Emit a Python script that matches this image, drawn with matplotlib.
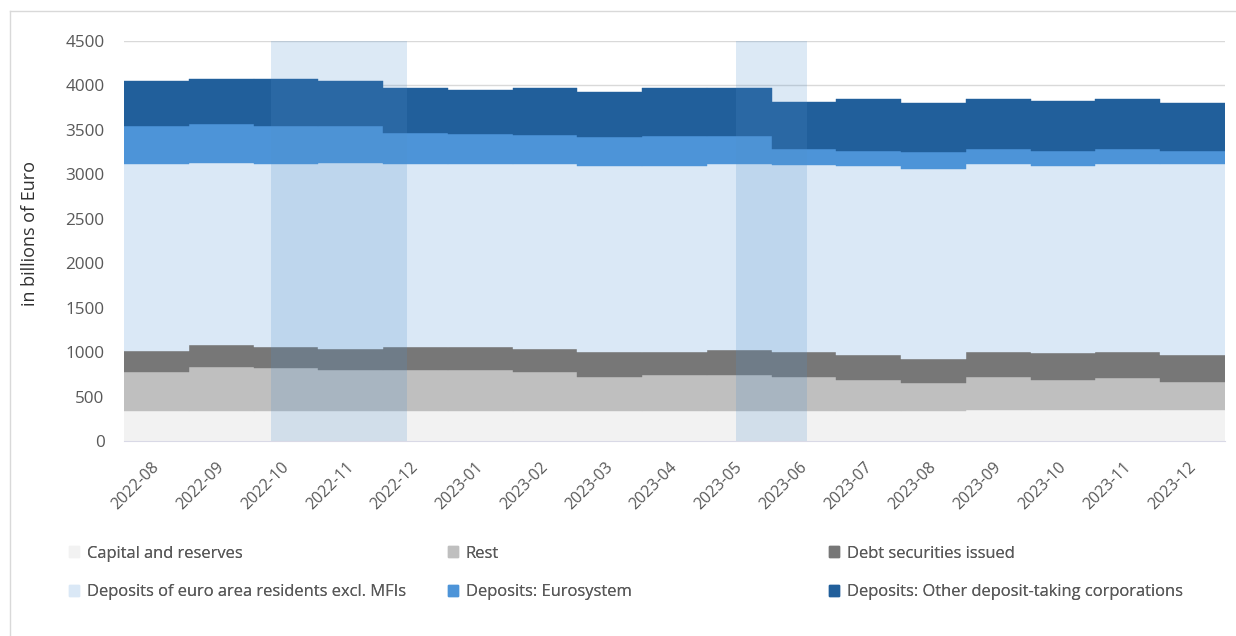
import matplotlib
matplotlib.use("Agg")
import matplotlib.pyplot as plt
from matplotlib.patches import Patch
from matplotlib.lines import Line2D
import matplotlib.transforms as mtransforms
import numpy as np

plt.rcParams['font.family'] = ['Open Sans', 'DejaVu Sans']

months = ["2022-08", "2022-09", "2022-10", "2022-11", "2022-12", "2023-01",
          "2023-02", "2023-03", "2023-04", "2023-05", "2023-06", "2023-07",
          "2023-08", "2023-09", "2023-10", "2023-11", "2023-12"]

capital = [340, 340, 340, 340, 340, 340, 340, 340, 340, 340, 340, 340, 340, 353, 353, 353, 353]
rest = [440, 496, 477, 459, 459, 459, 440, 384, 402, 402, 384, 346, 309, 371, 333, 352, 314]
debt = [236, 240, 237, 240, 262, 262, 259, 277, 259, 278, 277, 278, 277, 277, 300, 296, 301]
dep_residents = [2100, 2055, 2062, 2092, 2055, 2055, 2077, 2096, 2096, 2092, 2100, 2133, 2134,
                 2111, 2111, 2111, 2144]
dep_eurosystem = [428, 431, 428, 413, 353, 334, 330, 319, 334, 319, 180, 169, 187, 169, 169, 169, 154]
dep_other = [506, 507, 525, 506, 497, 504, 520, 513, 535, 535, 536, 577, 559, 562, 555, 562, 540]

series_names = ["Capital and reserves", "Rest", "Debt securities issued",
                "Deposits of euro area residents excl. MFIs", "Deposits: Eurosystem",
                "Deposits: Other deposit-taking corporations"]
series_values = [capital, rest, debt, dep_residents, dep_eurosystem, dep_other]
colors = ["#F2F2F2", "#BFBFBF", "#777777", "#DAE8F6", "#4D94D8", "#215F9B"]

# highlighted periods (in category units)
bands = [(1.77, 3.87), (8.95, 10.04)]

W, H = 1236, 636
fig = plt.figure(figsize=(W / 100, H / 100), dpi=100)
ax = fig.add_axes([124 / W, 1 - 441 / H, (1225 - 124) / W, (441 - 41) / H])

x = np.arange(len(months))
bottom = np.zeros(len(months))
handles = []
for name, vals, c in zip(series_names, series_values, colors):
    v = np.array(vals, dtype=float)
    ax.bar(x, v, bottom=bottom, width=1.0, color=c, edgecolor=c, linewidth=0.3, zorder=2)
    bottom += v
    handles.append(Patch(facecolor=c, edgecolor=c, label=name))

for a, b in bands:
    ax.axvspan(a, b, ymin=0, ymax=1, color="#5091CD", alpha=0.2, lw=0, zorder=3)

ax.set_xlim(-0.5, len(months) - 0.5)
ax.set_ylim(0, 4500)
ax.set_yticks(np.arange(0, 4501, 500))
ax.yaxis.grid(True, color="#D9D9D9", lw=1, zorder=0)
ax.set_axisbelow(True)
for s in ["left", "right", "top"]:
    ax.spines[s].set_visible(False)
ax.spines["bottom"].set_color("#D9D9E6")
ax.tick_params(axis="both", length=0, colors="#595959", labelsize=12.3)
ax.tick_params(axis="y", pad=14)
ax.set_xticks(x)
ax.set_xticklabels(months, rotation=45, ha="right", va="top", rotation_mode="anchor",
                   fontsize=11.5)
ax.tick_params(axis="x", pad=13)
offset = mtransforms.ScaledTranslation(-5 / 100, 0, fig.dpi_scale_trans)
for lbl in ax.get_xticklabels():
    lbl.set_transform(lbl.get_transform() + offset)
ax.set_ylabel("in billions of Euro", fontsize=13, color="#303030")
ax.yaxis.set_label_coords(-0.077, 0.52)

# legends: three columns, two rows
order = [(0, 3), (1, 4), (2, 5)]
col_x = [62 / W, 441 / W, 822 / W]
for (i, j), cx in zip(order, col_x):
    leg = fig.legend(handles=[handles[i], handles[j]], loc="upper left",
                     bbox_to_anchor=(cx, 1 - 539 / H), frameon=False, fontsize=11.9,
                     handlelength=0.65, handleheight=0.65, handletextpad=0.45,
                     labelspacing=1.35, labelcolor="#595959", borderaxespad=0)
    fig.add_artist(leg)

# outer frame (top and left edges visible)
frame_c = "#D9D9D9"
fig.add_artist(Line2D([9.5 / W, 1.0], [1 - 10.5 / H, 1 - 10.5 / H], transform=fig.transFigure,
                      color=frame_c, lw=1))
fig.add_artist(Line2D([9.5 / W, 9.5 / W], [0, 1 - 10.5 / H], transform=fig.transFigure,
                      color=frame_c, lw=1))

fig.savefig("out.png", dpi=100)
